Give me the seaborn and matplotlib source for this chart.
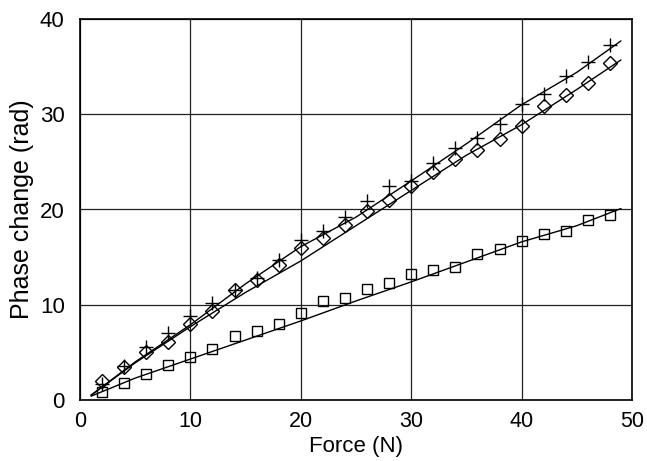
import matplotlib
matplotlib.use("Agg")
import matplotlib.pyplot as plt
import seaborn as sns
import numpy as np
import pandas as pd

# Measured data (Force in N, Phase change in rad)
force_pts = [2, 4, 6, 8, 10, 12, 14, 16, 18, 20, 22, 24, 26, 28, 30, 32, 34, 36, 38, 40, 42, 44, 46, 48]
plus_vals = [1.7, 3.6, 5.6, 7.0, 8.8, 10.2, 11.6, 12.8, 14.7, 16.8, 17.7, 19.2, 20.9, 22.5, 23.0, 24.9, 26.5, 27.5, 29.0, 31.1, 32.1, 34.0, 35.5, 37.3]
diamond_vals = [2.0, 3.5, 5.0, 6.1, 8.0, 9.3, 11.5, 12.6, 14.2, 16.0, 17.0, 18.4, 19.8, 21.0, 22.5, 23.9, 25.3, 26.2, 27.4, 28.8, 30.9, 32.0, 33.3, 35.4]
square_vals = [0.8, 1.8, 2.7, 3.7, 4.5, 5.4, 6.7, 7.2, 8.0, 9.1, 10.4, 10.7, 11.7, 12.3, 13.2, 13.7, 14.0, 15.3, 15.9, 16.7, 17.4, 17.7, 18.9, 19.4]

# Model curves
force_fit = [1, 5, 10, 15, 20, 25, 30, 35, 40, 45, 49]
plus_fit = [0.5, 4.0, 7.9, 12.2, 16.1, 19.2, 23.0, 26.9, 31.0, 34.4, 37.7]
diamond_fit = [0.5, 3.9, 7.7, 11.3, 14.6, 18.3, 22.0, 25.7, 28.9, 32.6, 35.7]
square_fit = [0.4, 2.3, 4.3, 6.3, 8.3, 10.4, 12.4, 14.5, 16.6, 18.3, 20.1]

x_ticks = [0, 10, 20, 30, 40, 50]
y_ticks = [0, 10, 20, 30, 40]

sns.set_style("white")
plt.rcParams['font.family'] = ['Liberation Sans', 'DejaVu Sans']
plt.rcParams['text.color'] = 'black'
plt.rcParams['axes.labelcolor'] = 'black'

fig = plt.figure(figsize=(6.47, 4.61), dpi=100)
ax = fig.add_axes([80/647, 61/461, 552/647, 381/461])

for fy in (plus_fit, diamond_fit, square_fit):
    sns.lineplot(x=force_fit, y=fy, ax=ax, color='black', linewidth=1.0, sort=False)

sns.lineplot(x=force_pts, y=plus_vals, ax=ax, linestyle='', marker='+',
             markersize=10, markeredgewidth=1.0, markeredgecolor='black',
             color='black', sort=False)
sns.lineplot(x=force_pts, y=diamond_vals, ax=ax, linestyle='', marker='D',
             markersize=7.5, markeredgewidth=1.0, markerfacecolor='none',
             markeredgecolor='black', color='black', sort=False)
sns.lineplot(x=force_pts, y=square_vals, ax=ax, linestyle='', marker='s',
             markersize=7, markeredgewidth=1.0, markerfacecolor='none',
             markeredgecolor='black', color='black', sort=False)

ax.set_xlim(0, 50)
ax.set_ylim(0, 40)
ax.set_xticks(x_ticks)
ax.set_yticks(y_ticks)
ax.grid(True, color='#222222', linewidth=0.9)
ax.set_axisbelow(True)
for s in ax.spines.values():
    s.set_color('black')
    s.set_linewidth(1.2)
ax.tick_params(axis='x', length=0, labelsize=15.5, pad=8, colors='black')
ax.tick_params(axis='y', length=0, labelsize=16, pad=11, colors='black')
ax.set_xlabel('Force (N)', fontsize=16, labelpad=3)
ax.set_ylabel('Phase change (rad)', fontsize=18, labelpad=4)

fig.savefig('out.png', dpi=100)
